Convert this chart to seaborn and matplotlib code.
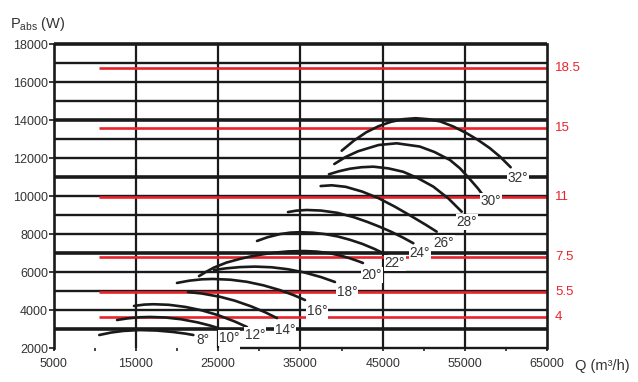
import pandas as pd
import matplotlib.pyplot as plt
import seaborn as sns

# curvas de potência absorvida por ângulo de pá (Q em m3/h, P em W)
angles = [8, 10, 12, 14, 16, 18, 20, 22, 24, 26, 28, 30, 32]

q_08 = [10560, 12000, 13500, 15500, 17500, 19500, 21000, 21990]
p_08 = [2700, 2830, 2915, 2960, 2935, 2860, 2775, 2700]
q_10 = [12720, 14000, 15500, 16720, 18500, 20500, 22500, 24000, 24990]
p_10 = [3490, 3575, 3635, 3650, 3625, 3530, 3365, 3200, 3070]
q_12 = [14780, 16000, 17130, 19000, 21000, 23000, 25000, 27000, 28510]
p_12 = [4230, 4300, 4320, 4290, 4180, 4000, 3745, 3415, 3120]
q_14 = [21340, 23000, 25250, 27000, 29000, 30700, 32160]
p_14 = [4960, 4885, 4710, 4510, 4210, 3900, 3590]
q_16 = [20000, 21500, 23000, 24380, 26500, 28500, 30500, 32500, 34200, 35560]
p_16 = [5440, 5560, 5630, 5650, 5610, 5500, 5315, 5065, 4795, 4540]
q_18 = [24500, 26000, 27700, 29500, 31500, 33500, 35500, 37500, 39200]
p_18 = [6120, 6210, 6275, 6300, 6265, 6160, 5990, 5750, 5490]
q_20 = [22680, 23600, 24500, 26000, 27600, 29000, 30500, 32000, 33500, 35500,
        37000, 38500, 40000, 41000, 42000, 42600]
p_20 = [5800, 6040, 6250, 6510, 6700, 6840, 6950, 7040, 7100, 7120,
        7090, 7010, 6865, 6740, 6590, 6490]
q_22 = [29730, 31000, 32500, 33800, 34950, 36500, 38000, 39500, 41000, 42500, 44000, 45520]
p_22 = [7650, 7845, 8010, 8090, 8110, 8085, 8010, 7890, 7715, 7500, 7230, 6910]
q_24 = [33490, 34500, 35760, 37500, 39500, 41500, 43090, 44500, 46000, 47500, 48720]
p_24 = [9170, 9245, 9280, 9250, 9130, 8900, 8660, 8420, 8140, 7820, 7530]
q_26 = [37460, 38800, 40500, 42500, 44500, 46500, 48500, 50200, 51560]
p_26 = [10540, 10580, 10500, 10250, 9900, 9450, 8950, 8510, 8140]
q_28 = [38470, 39700, 41000, 42400, 43860, 45700, 47500, 49300, 51150, 53000, 54600]
p_28 = [11160, 11320, 11450, 11530, 11560, 11470, 11290, 10950, 10510, 9880, 9190]
q_30 = [39120, 40500, 42000, 44500, 46700, 49500, 51300, 53180, 54400, 55500, 56600, 57630]
p_30 = [11700, 12070, 12370, 12700, 12790, 12620, 12330, 11910, 11470, 10950, 10400, 9800]
q_32 = [40020, 41500, 43000, 44500, 46000, 47500, 49000, 50500, 52000, 53600,
        55200, 56600, 58000, 59300, 60550]
p_32 = [12400, 12930, 13370, 13690, 13920, 14060, 14110, 14060, 13940, 13670,
        13320, 12960, 12540, 12070, 11530]

curve_q = [q_08, q_10, q_12, q_14, q_16, q_18, q_20, q_22, q_24, q_26, q_28, q_30, q_32]
curve_p = [p_08, p_10, p_12, p_14, p_16, p_18, p_20, p_22, p_24, p_26, p_28, p_30, p_32]

# posição dos rótulos de ângulo
label_q = [23160, 26320, 29480, 33130, 37010, 40660, 43700, 46490, 49530, 52450, 55240, 58160, 61440]
label_p = [2440, 2540, 2700, 2960, 3960, 4960, 5860, 6490, 7020, 7540, 8660, 9770, 10950]

# potências de motor (kW) e linhas vermelhas
motor_kw = ["18.5", "15", "11", "7.5", "5.5", "4"]
motor_p = [16730, 13580, 9950, 6820, 4960, 3630]
motor_q_start = 10560

df = pd.concat(
    [pd.DataFrame({"angle": a, "Q": q, "P": p}) for a, q, p in zip(angles, curve_q, curve_p)],
    ignore_index=True,
)

sns.set_theme(style="white")
plt.rcParams['font.family'] = ['Liberation Sans', 'DejaVu Sans']
plt.rcParams['mathtext.fontset'] = 'custom'
plt.rcParams['mathtext.rm'] = 'Liberation Sans'
plt.rcParams['mathtext.it'] = 'Liberation Sans'

ink = "#1a1a1a"
txt = "#333333"
red = "#e8232b"

fig = plt.figure(figsize=(6.38, 3.82), dpi=100)
ax = fig.add_axes([0.0839, 0.0882, 0.7739, 0.7958])

# grade horizontal (algumas linhas mais grossas)
for y in range(3000, 18001, 1000):
    lw = 2.6 if y in (3000, 7000, 11000, 14000, 18000) else 1.7
    ax.hlines(y, 5000, 65000, color=ink, lw=lw, zorder=1, clip_on=False)
ax.hlines(2000, 27700, 65000, color=ink, lw=1.7, zorder=1, clip_on=False)
ax.vlines(range(15000, 60000, 10000), 2000, 18000, color=ink, lw=1.6, zorder=1)

ax.hlines(motor_p, motor_q_start, 65000, color=red, lw=1.9, zorder=2)

sns.lineplot(data=df, x="Q", y="P", units="angle", estimator=None, sort=False,
             color=ink, lw=1.9, ax=ax, zorder=3, solid_joinstyle="round")

for a, x, y in zip(angles, label_q, label_p):
    ax.text(x, y, f"{a}°", fontsize=9.8, color=txt, ha="center", va="center", zorder=5,
            bbox=dict(boxstyle="square,pad=0.06", fc="white", ec="none"))

for s, y in zip(motor_kw, motor_p):
    ax.text(65950, y, s, fontsize=9.5, color=red, ha="left", va="center", clip_on=False)

ax.set_xlim(5000, 65000)
ax.set_ylim(2000, 18000)
ax.set_xticks(range(5000, 65001, 10000))
ax.set_xticks(range(10000, 65000, 10000), minor=True)
ax.set_yticks(range(2000, 18001, 2000))
ax.set_xlabel("")
ax.set_ylabel("")
ax.tick_params(axis="both", labelsize=9, labelcolor=txt, colors=ink)
ax.tick_params(axis="y", which="major", direction="out", length=3.5, width=1.2, pad=0.5, left=True)
ax.tick_params(axis="x", which="major", direction="out", length=2, width=1.2, pad=5, bottom=True)
ax.tick_params(axis="x", which="minor", direction="out", length=2, width=1.2, bottom=True)

for side in ("left", "right"):
    ax.spines[side].set_color(ink)
    ax.spines[side].set_linewidth(1.9)
ax.spines["top"].set_visible(False)
ax.spines["bottom"].set_visible(False)

fig.text(0.016, 0.937, r"P$_{\mathrm{abs}}$ (W)", fontsize=10.5, color=txt, ha="left", va="center")
fig.text(0.901, 0.042, "Q (m³/h)", fontsize=10.5, color=txt, ha="left", va="center")

fig.savefig("out.png", dpi=100)
